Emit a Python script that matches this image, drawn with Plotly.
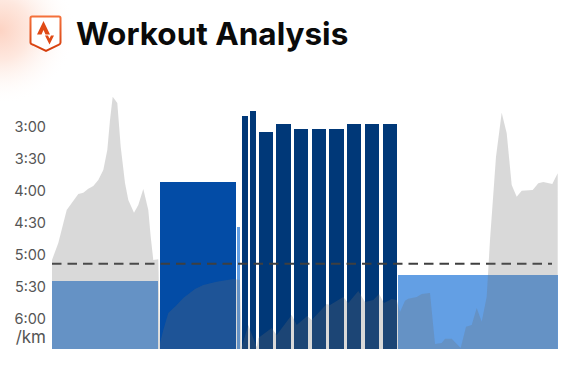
import base64
import plotly.graph_objects as go

# Laps: x extent in distance units, pace in seconds per km, colour per effort
lap_start = [0, 107.5, 185.3, 189.5, 198, 207.3, 224.3, 241.7, 259.7, 277.3, 295.3, 312.7, 330.7, 346.3]
lap_end = [105.5, 184, 188.3, 195.5, 204, 221.3, 238.7, 256, 273.7, 291.7, 309.3, 327, 344.7, 506]
lap_pace = [325.3, 232.5, 274.7, 170.6, 165.7, 185.6, 178, 183, 183, 183, 178, 178, 178, 319.7]
C_EASY, C_MID, C_HARD = "#639FE4", "#034CA6", "#003878"
lap_color = [C_EASY, C_MID, C_EASY] + [C_HARD] * 10 + [C_EASY]

# Background profile
profile_x = [0, 6.3, 14.7, 26.3, 31.3, 36.3, 41.3, 46.3, 51.3, 55.3, 58, 60.7, 65.3, 68.7, 73, 76.3, 82, 86.3, 91.3,
             96.3, 98.7, 101.3, 106.3, 108, 111.3, 116.3, 124.7, 131.3, 143, 151.3, 164.7, 181.3, 188, 189.7, 196.3,
             204.7, 206.3, 219.7, 224.7, 239.7, 244.7, 255.3, 259.7, 274.7, 278, 291.3, 296.3, 306.3, 313, 321.3,
             327, 332, 339.7, 344.7, 348, 353, 356.3, 364.7, 369.7, 378, 383, 389.7, 393, 399.7, 408.7, 414, 419.7,
             424.7, 429.7, 434.7, 438, 444, 449.7, 454.7, 459.7, 464.7, 469.7, 480.7, 486.3, 491.3, 500.3, 505.7]
profile_h = [89, 106, 139, 155, 156.3, 160.3, 163, 169, 179, 199, 229, 252.3, 246, 202.3, 166, 149, 136.3, 144, 160,
             139, 112.3, 89, 89.7, 6, 19, 36, 44, 51, 60, 64, 67.3, 70, 69, 2, 24, 2, 11, 21, 14, 34, 24, 33, 29,
             45, 44, 52, 46, 58, 47, 49, 55, 46, 50, 49, 37, 48.3, 50.3, 52, 55, 56, 5, 6, 10.3, 10.3, 1, 22.3,
             24, 41, 27.3, 52.3, 109, 192.3, 236.3, 215.7, 164, 152.3, 158.3, 159, 165.7, 167, 165, 175.7]

threshold_x = [0, 500]
threshold_pace = [309, 309]

tick_vals = [181, 211, 241, 271, 301, 331, 361, 379]
tick_text = ["3:00", "3:30", "4:00", "4:30", "5:00", "5:30", "6:00", "<span style='font-size:17px'>/km</span>"]
title_text = "Workout Analysis"

svg = """<svg xmlns='http://www.w3.org/2000/svg' width='576' height='380' viewBox='0 0 576 380'>
<defs>
<radialGradient id='g' gradientUnits='userSpaceOnUse' cx='0' cy='30' r='75'>
<stop offset='0' stop-color='#FDD3C3'/><stop offset='0.4' stop-color='#FEE8DF'/><stop offset='1' stop-color='#FFFFFF' stop-opacity='0'/>
</radialGradient>
<linearGradient id='o' x1='0' y1='0' x2='0' y2='1'><stop offset='0' stop-color='#F4703A'/><stop offset='1' stop-color='#D43C0A'/></linearGradient>
</defs>
<rect x='0' y='0' width='110' height='110' fill='url(#g)'/>
<path d='M32 16.5H59Q60.5 16.5 60.5 18V42.5Q60.5 44 59 44.7L46 51L33 44.7Q30.5 44 30.5 42.5V18Q30.5 16.5 32 16.5Z' fill='#FFFFFF' stroke='url(#o)' stroke-width='2'/>
<path d='M43.5 21L37 34.5H41.5L43.5 30L45.5 34.5H50Z' fill='#E04A15'/>
<path d='M45 35.5L49.5 44.5L54 35.5H51L49.5 38.5L48 35.5Z' fill='#E04A15'/>
</svg>"""
bg_src = "data:image/svg+xml;base64," + base64.b64encode(svg.encode()).decode()

fig = go.Figure()
fig.add_trace(go.Bar(
    x=[(a + b) / 2 for a, b in zip(lap_start, lap_end)],
    width=[b - a for a, b in zip(lap_start, lap_end)],
    y=[p - 389 for p in lap_pace],
    base=389,
    marker=dict(color=lap_color, line_width=0),
    hoverinfo="skip",
))
fig.add_trace(go.Scatter(
    x=threshold_x, y=threshold_pace, mode="lines",
    line=dict(color="#3F3F3F", width=2, dash="9.5px,6px"), hoverinfo="skip",
))
fig.add_trace(go.Scatter(
    x=profile_x, y=profile_h, mode="lines", yaxis="y2", fill="tozeroy",
    line=dict(width=0), fillcolor="rgba(107,107,107,0.26)", hoverinfo="skip",
))
fig.update_layout(
    width=576, height=380, showlegend=False, paper_bgcolor="white", plot_bgcolor="rgba(0,0,0,0)",
    margin=dict(l=52, r=18, t=90, b=31, pad=0), bargap=0,
    xaxis=dict(range=[0, 506], visible=False, fixedrange=True),
    yaxis=dict(range=[389, 146.25], tickmode="array", tickvals=tick_vals, ticktext=tick_text,
               showgrid=False, zeroline=False, showline=False, ticks="", ticklabelstandoff=5,
               tickfont=dict(family="Inter", size=14.5, color="#555555")),
    yaxis2=dict(range=[0, 259], overlaying="y", visible=False, fixedrange=True),
    images=[dict(source=bg_src, xref="paper", yref="paper", x=-52 / 506, y=349 / 259,
                 sizex=576 / 506, sizey=380 / 259, sizing="stretch", xanchor="left", yanchor="top", layer="below")],
    annotations=[dict(text="<b>" + title_text + "</b>", xref="paper", yref="paper", x=(74 - 52) / 506,
                      y=(349 - 33) / 259, xanchor="left", yanchor="middle", showarrow=False,
                      font=dict(family="Inter", size=31.5, color="#0A0A0A"))],
)
fig.write_html("out.html", config=dict(displayModeBar=False), post_script="document.body.style.margin='0';")
